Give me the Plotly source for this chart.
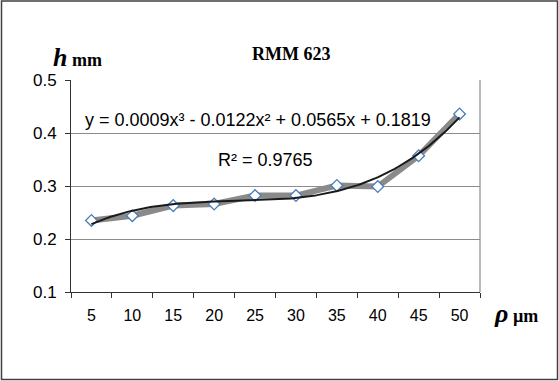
import numpy as np
import plotly.graph_objects as go

# Data
rho_labels = ["5", "10", "15", "20", "25", "30", "35", "40", "45", "50"]
h_values = [0.235, 0.244, 0.263, 0.266, 0.282, 0.282, 0.301, 0.299, 0.357, 0.436]
y_ticks = [0.1, 0.2, 0.3, 0.4, 0.5]

idx = np.arange(1, len(rho_labels) + 1)

# 3rd-order polynomial trendline (Excel style) fitted on category index
coef = np.polyfit(idx, h_values, 3)
xt = np.linspace(1, len(rho_labels), 200)
yt = np.polyval(coef, xt)

fig = go.Figure()
fig.add_trace(go.Scatter(
    x=idx, y=h_values, mode="lines+markers",
    line=dict(color="#8a8a8a", width=6),
    marker=dict(symbol="diamond", size=9, color="white",
                line=dict(color="#4a7ebb", width=1.3)),
    showlegend=False, hoverinfo="skip"))
fig.add_trace(go.Scatter(
    x=xt, y=yt, mode="lines",
    line=dict(color="#1a1a1a", width=2),
    showlegend=False, hoverinfo="skip"))

L, R, T, B = 71, 79, 80, 89
W, H = 559, 381
pw, ph = W - L - R, H - T - B

fig.update_layout(
    width=W, height=H,
    margin=dict(l=L, r=R, t=T, b=B),
    paper_bgcolor="white", plot_bgcolor="white",
    font=dict(family="Liberation Sans, Arial", color="black"),
    xaxis=dict(
        range=[0.5, len(rho_labels) + 0.5],
        tickvals=list(idx), ticktext=rho_labels,
        ticks="outside", ticklen=9, tickcolor="rgba(0,0,0,0)",
        tickfont=dict(size=16, family="Liberation Sans, Arial"),
        showgrid=False, zeroline=False,
        showline=True, linecolor="#333333", linewidth=1,
        minor=dict(tickvals=[i + 0.5 for i in range(0, len(rho_labels) + 1)],
                   ticks="outside", ticklen=5, tickcolor="#333333", showgrid=False),
        fixedrange=True,
    ),
    yaxis=dict(
        range=[0.1, 0.5], tickvals=y_ticks, tickformat=".1f",
        ticks="outside", ticklen=5, tickcolor="#333333",
        ticklabelstandoff=5,
        tickfont=dict(size=17, family="Liberation Sans, Arial"),
        showgrid=True, gridcolor="#8c8c8c", gridwidth=1,
        zeroline=False, showline=True, linecolor="#333333", linewidth=1,
        fixedrange=True,
    ),
    shapes=[
        # plot area frame (right side grey)
        dict(type="line", xref="paper", yref="paper", x0=1, x1=1, y0=0, y1=1,
             line=dict(color="#8c8c8c", width=1.2)),
        # outer chart border
        dict(type="rect", xref="paper", yref="paper",
             x0=(1.5 - L) / pw, x1=(557.5 - L) / pw,
             y0=(H - B - 379.5) / ph, y1=(H - B - 1.0) / ph,
             line=dict(color="#404040", width=1.5), fillcolor="rgba(0,0,0,0)", layer="below"),
    ],
    annotations=[
        dict(text="<b>RMM 623</b>", xref="paper", yref="paper",
             x=(291 - L) / pw, y=(H - B - 54) / ph, showarrow=False,
             xanchor="center", yanchor="middle",
             font=dict(family="Liberation Serif, Times New Roman", size=18, color="black")),
        dict(text="<b><i><span style='font-size:26px'>h</span></i></b> <b>mm</b>",
             xref="paper", yref="paper",
             x=(51 - L) / pw, y=(H - B - 58) / ph, showarrow=False,
             xanchor="left", yanchor="middle",
             font=dict(family="Liberation Serif, Times New Roman", size=18, color="black")),
        dict(text="<b><i><span style='font-size:26px'>ρ</span></i></b> <b>µm</b>",
             xref="paper", yref="paper",
             x=(492 - L) / pw, y=(H - B - 313) / ph, showarrow=False,
             xanchor="left", yanchor="middle",
             font=dict(family="Liberation Serif, Times New Roman", size=18, color="black")),
        dict(text="y = 0.0009x³ - 0.0122x² + 0.0565x + 0.1819",
             xref="paper", yref="paper",
             x=(83 - L) / pw, y=(H - B - 120) / ph, showarrow=False,
             xanchor="left", yanchor="middle",
             font=dict(family="Liberation Sans, Arial", size=18, color="black")),
        dict(text="R² = 0.9765",
             xref="paper", yref="paper",
             x=(216 - L) / pw, y=(H - B - 160) / ph, showarrow=False,
             xanchor="left", yanchor="middle",
             font=dict(family="Liberation Sans, Arial", size=18, color="black")),
    ],
)

fig.write_html("out.html", config={"displayModeBar": False},
               post_script="document.body.style.margin='0';document.body.style.overflow='hidden';")
